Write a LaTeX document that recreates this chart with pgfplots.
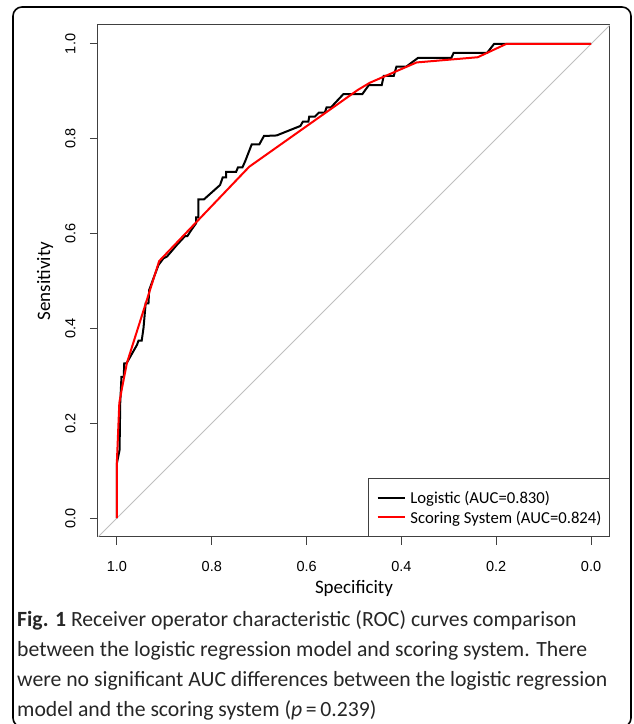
\documentclass[border=0pt]{standalone}
\usepackage{pgfplots}
\pgfplotsset{compat=1.18}
\usepackage{fontspec}
\setmainfont{Carlito}
\newfontfamily\arial{Liberation Sans}

% Logistic model ROC (specificity, sensitivity)
\pgfplotstableread{
spec sens
1.000 0.000
1.000 0.116
0.9945 0.1435
0.9931 0.2426
0.9905 0.2975
0.9857 0.2975
0.9846 0.3264
0.9798 0.3264
0.9579 0.3650
0.9545 0.3741
0.9478 0.3741
0.9440 0.4008
0.9394 0.4530
0.9335 0.4530
0.9320 0.4810
0.9229 0.5057
0.9124 0.5338
0.9019 0.5479
0.8947 0.5513
0.8737 0.5759
0.8562 0.5949
0.8514 0.5949
0.8421 0.6091
0.8331 0.6217
0.8331 0.6340
0.8282 0.6340
0.8282 0.6724
0.8162 0.6724
0.7825 0.7025
0.7768 0.7188
0.7699 0.7188
0.7699 0.7300
0.7488 0.7300
0.7446 0.7399
0.7352 0.7399
0.7293 0.7532
0.7158 0.7880
0.6998 0.7880
0.6899 0.8059
0.6632 0.8070
0.6131 0.8270
0.6078 0.8361
0.5962 0.8361
0.5945 0.8466
0.5825 0.8466
0.5741 0.8551
0.5615 0.8551
0.5579 0.8660
0.5488 0.8660
0.5225 0.8941
0.4825 0.8941
0.4688 0.9131
0.4415 0.9131
0.4373 0.9325
0.4162 0.9325
0.4105 0.9521
0.3899 0.9521
0.3651 0.9705
0.2947 0.9705
0.2899 0.9810
0.2194 0.9810
0.2046 1.000
0.179 1.000
0.000 1.000
}\logistic

% Scoring system ROC
\pgfplotstableread{
spec sens
1.000 0.000
1.000 0.122
0.995 0.243
0.989 0.276
0.979 0.327
0.911 0.542
0.721 0.741
0.492 0.903
0.467 0.918
0.368 0.961
0.239 0.972
0.179 1.000
0.000 1.000
}\scoring

\begin{document}
\begin{tikzpicture}[x=1pt,y=1pt]
\useasboundingbox (0,0) rectangle (634,724);
\draw[line width=1.6pt, rounded corners=9pt] (13,-3) rectangle (631,717);

\begin{axis}[
  at={(98pt,187pt)}, anchor=south west,
  scale only axis, width=512pt, height=512pt,
  xmin=-0.04, xmax=1.04, ymin=-0.04, ymax=1.04,
  x dir=reverse,
  axis line style={line width=1pt, black!75},
  xtick={0,0.2,0.4,0.6,0.8,1.0},
  ytick={0,0.2,0.4,0.6,0.8,1.0},
  xtick pos=bottom, ytick pos=left,
  tick align=outside, major tick length=8pt,
  tick style={line width=1pt, black!75},
  /pgf/number format/.cd, fixed, fixed zerofill, precision=1, assume math mode=true,
  /pgfplots/.cd,
  xticklabel style={font=\fontsize{14.5}{14.5}\selectfont\arial, yshift=-13pt},
  yticklabel style={font=\fontsize{14.5}{14.5}\selectfont\arial, rotate=90, anchor=south, yshift=11pt},
  xlabel={Specificity}, ylabel={Sensitivity},
  every axis x label/.style={at={(axis description cs:0.5,-0.0996)}, anchor=center,
    font=\fontsize{19}{19}\selectfont},
  every axis y label/.style={at={(axis description cs:-0.1035,0.5)}, anchor=center, rotate=90,
    font=\fontsize{19}{19}\selectfont},
  legend style={at={(1,0)}, anchor=south east, draw=black!75, line width=1pt,
    font=\fontsize{16.7}{16.7}\selectfont, inner xsep=8pt, inner ysep=9.5pt,
    row sep=0pt, column sep=4.5pt,
    nodes={inner sep=0pt, text height=15.5pt, text depth=4pt}},
  legend cell align=left,
  legend image code/.code={\draw[#1, line width=1.8pt] (0pt,0pt) -- (27.5pt,0pt);},
]
\addplot[gray!50, line width=0.9pt, forget plot] coordinates {(1.04,-0.04) (-0.04,1.04)};
\addplot[black, line width=2pt] table[x=spec, y=sens] {\logistic};
\addlegendentry{Logistic (AUC=0.830)}
\addplot[red, line width=2pt] table[x=spec, y=sens] {\scoring};
\addlegendentry{Scoring System (AUC=0.824)}
\end{axis}

\begin{scope}[every node/.style={anchor=base west, inner sep=0pt, text=black!85,
  font=\fontsize{21.7}{21.7}\selectfont}]
\node at (17,97) {\textbf{Fig. 1} Receiver operator characteristic (ROC) curves comparison};
\node at (17,67) {between the logistic regression model and scoring system. There};
\node at (17,37.5) {were no significant AUC differences between the logistic regression};
\node at (17,8) {model and the scoring system (\textit{p}\,=\,0.239)};
\end{scope}
\end{tikzpicture}
\end{document}
